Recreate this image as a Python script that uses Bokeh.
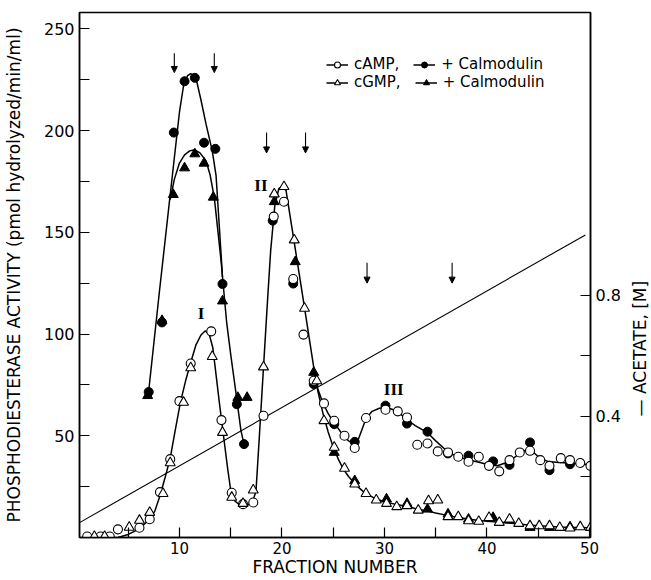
import math
from bokeh.plotting import figure
from bokeh.layouts import row
from bokeh.models import (Range1d, LinearAxis, FixedTicker, Arrow, NormalHead, Label,
                          Legend, LegendItem, ColumnDataSource)
from bokeh.embed import file_html
from bokeh.resources import INLINE
from bokeh.core.properties import value

# ---------------- data ----------------
# cAMP, open circles
camp_frac = [1.0, 2.3, 3.2, 4.0, 6.1, 7.1, 8.1, 9.1, 10.0, 11.1, 13.1, 14.1, 15.1, 16.2, 17.2,
             18.2, 19.2, 20.2, 21.1, 22.1, 23.1, 24.1, 25.1, 26.1, 27.1, 28.2, 30.1, 31.3,
             32.2, 33.2, 34.2, 35.2, 36.2, 37.2, 38.2, 39.2, 40.2, 41.2, 42.2, 43.2, 44.2,
             45.2, 46.1, 47.2, 48.1, 49.1, 50.1]
camp_act = [0.5, 0.5, 0.5, 4.0, 4.8, 9.0, 22.3, 38.5, 67.0, 85.5, 101.3, 57.7, 22.0, 16.4, 17.2,
            59.8, 157.7, 165.0, 127.0, 99.7, 77.0, 65.9, 57.4, 50.0, 44.0, 58.7, 62.8, 62.0,
            59.0, 45.6, 46.2, 42.3, 41.8, 39.7, 37.2, 39.7, 35.2, 32.5, 38.0, 41.8, 42.6,
            38.0, 35.2, 39.0, 38.0, 36.6, 35.2]

# cGMP, open triangles
cgmp_frac = [1.7, 2.7, 5.1, 6.1, 7.1, 8.4, 9.1, 10.4, 11.1, 13.2, 14.2, 15.1, 16.2, 17.2, 18.2,
             19.25, 20.2, 21.2, 22.2, 23.4, 24.1, 25.1, 26.1, 27.1, 28.2, 29.2, 30.2, 31.2,
             32.2, 33.3, 34.3, 35.2, 36.2, 37.2, 38.2, 39.2, 40.2, 41.2, 42.2, 43.1, 44.2,
             45.1, 46.1, 47.1, 48.1, 49.1, 50.1]
cgmp_act = [0.5, 0.5, 5.0, 8.4, 12.3, 21.6, 36.7, 66.4, 83.4, 88.9, 51.6, 19.7, 16.7, 23.3, 83.8,
            168.8, 172.4, 146.2, 112.6, 77.0, 57.4, 44.3, 34.0, 26.2, 21.6, 18.4, 16.7, 15.1,
            15.6, 13.4, 18.0, 18.4, 10.2, 10.2, 8.2, 7.9, 9.8, 7.4, 9.0, 6.9, 5.7,
            5.7, 5.7, 4.9, 4.6, 5.2, 4.9]

# cAMP + calmodulin, filled circles
campcal_frac = [7.0, 8.3, 9.45, 10.5, 11.5, 12.4, 13.5, 14.2, 15.6, 16.3, 19.1, 21.1, 23.1,
                25.1, 27.1, 30.1, 32.2, 34.2, 36.2, 38.2, 40.6, 42.2, 44.2, 46.1, 48.1]
campcal_act = [71.5, 105.7, 199.0, 224.2, 225.9, 194.0, 191.0, 124.6, 65.5, 45.9, 155.7, 124.8,
               75.4, 55.7, 47.0, 64.8, 56.0, 52.0, 41.3, 40.2, 37.4, 35.7, 46.7, 33.1, 36.0]

# cGMP + calmodulin, filled triangles
cgmpcal_frac = [6.9, 8.3, 9.4, 10.5, 11.5, 12.4, 13.3, 14.2, 15.7, 16.6, 19.25, 21.3, 23.1,
                25.1, 27.1, 30.2, 32.2, 34.2, 36.2, 38.2, 40.6, 42.2, 44.2, 46.1, 48.1]
cgmpcal_act = [69.7, 106.6, 168.5, 181.6, 188.5, 183.9, 167.2, 116.2, 68.8, 68.8, 165.0, 135.5,
               81.1, 41.8, 27.9, 18.9, 16.7, 13.9, 11.5, 9.0, 9.8, 8.5, 4.9, 4.9, 5.2]

# hand-drawn curves
curve_camp_frac = [4.0, 5.0, 6.0, 7.0, 7.6, 8.1, 8.6, 9.1, 9.6, 10.1, 10.6, 11.1, 11.6, 12.1,
                   12.5, 12.9, 13.25, 13.5, 13.9, 14.3, 14.7, 15.05, 15.4, 15.7, 16.2, 16.7,
                   17.2, 17.47, 17.8, 18.2, 18.6, 18.9, 19.3, 19.7, 20.1, 20.4, 21.2, 22.2,
                   23.15, 23.5, 24.0, 24.5, 25.0, 25.5, 26.0, 26.5, 27.0, 27.4, 27.8, 28.2,
                   28.8, 29.5, 30.2, 31.0, 31.6, 32.2, 33.0, 34.2, 35.0, 36.2, 37.0, 38.0,
                   39.0, 40.0, 41.0, 42.0, 43.0, 43.8, 44.5, 45.2, 46.0, 47.0, 48.0, 49.0, 50.0]
curve_camp_act = [0.0, 1.5, 4.0, 8.5, 13.0, 20.5, 29.5, 39.0, 53.0, 66.5, 77.0, 86.0, 94.5,
                  99.5, 101.5, 100.0, 93.4, 83.0, 66.0, 50.0, 34.0, 21.5, 18.0, 16.7, 16.0,
                  16.0, 18.5, 23.0, 50.0, 83.6, 117.0, 141.0, 163.0, 171.5, 172.5, 170.5,
                  145.0, 113.0, 82.0, 73.0, 66.0, 61.0, 57.0, 53.5, 50.0, 47.5, 46.0, 47.5,
                  53.0, 58.5, 62.0, 63.5, 64.0, 62.5, 60.5, 58.0, 55.0, 51.5, 47.5, 42.0,
                  40.0, 38.3, 37.2, 36.0, 35.3, 37.0, 40.5, 43.0, 42.0, 38.8, 37.3, 36.8,
                  36.6, 36.2, 35.8]

curve_cgmp_frac = [23.15, 23.5, 24.0, 24.5, 25.0, 25.5, 26.0, 26.5, 27.0, 27.5, 28.0, 29.0,
                   30.0, 31.0, 32.0, 33.0, 34.0, 35.0, 36.0, 37.0, 38.0, 39.0, 40.0, 41.0,
                   42.0, 43.0, 44.0, 45.0, 46.0, 47.0, 48.0, 49.0, 50.0]
curve_cgmp_act = [82.0, 72.0, 61.0, 52.0, 44.5, 38.5, 33.5, 30.0, 27.0, 24.5, 22.3, 19.3,
                  17.6, 16.4, 15.5, 14.3, 13.2, 12.0, 11.0, 10.0, 9.2, 8.5, 8.0, 7.6,
                  7.2, 6.7, 6.2, 5.8, 5.5, 5.2, 5.0, 4.9, 4.8]

curve_campcal_frac = [7.0, 8.05, 9.0, 10.0, 10.4, 10.8, 11.1, 11.6, 12.1, 12.6, 13.2, 13.57,
                      13.9, 14.2, 14.6, 15.0, 15.5, 16.0, 16.3]
curve_campcal_act = [72.0, 121.0, 164.0, 209.0, 222.0, 227.0, 228.0, 226.0, 215.0, 203.0,
                     190.0, 178.0, 152.0, 128.0, 106.0, 90.0, 71.5, 52.5, 45.9]

curve_cgmpcal_frac = [9.1, 9.5, 10.0, 10.5, 11.0, 11.5, 12.0, 12.6, 13.0, 13.4, 13.7, 14.06, 14.2]
curve_cgmpcal_act = [166.0, 176.0, 184.0, 188.0, 190.0, 190.5, 189.0, 185.0, 178.0, 167.0,
                     153.0, 136.0, 128.0]

# acetate gradient (right axis, M)
acetate_frac = [0.3, 49.6]
acetate_molar = [0.05, 1.0]

# pooled fractions (arrows)
arrow_frac = [9.5, 13.4, 18.5, 22.3, 28.3, 36.6]
arrow_top = [238.0, 238.0, 199.0, 199.0, 135.0, 135.0]
arrow_tip = [228.5, 228.5, 189.0, 189.0, 125.0, 125.0]

# peak labels
peak_names = ["I", "II", "III"]
peak_frac = [12.1, 17.95, 30.9]
peak_act = [110.0, 173.0, 72.5]

x_ticks = [10, 20, 30, 40, 50]
x_minor = [5, 15, 25, 35, 45]
y_ticks = [50, 100, 150, 200, 250]
y_minor = [25, 75, 125, 175, 225]
r_ticks = [0.4, 0.8]
r_minor = [0.2, 0.6]

# ---------------- main figure ----------------
FONT = "DejaVu Sans"
TOP, BOTTOM = 12, 43
yr = Range1d(0, 258)
p = figure(width=624, height=580, output_backend="svg", toolbar_location=None,
           x_range=Range1d(0.25, 50.1), y_range=yr,
           min_border_left=78, min_border_right=34, min_border_top=TOP, min_border_bottom=BOTTOM)
p.xgrid.visible = False
p.ygrid.visible = False
p.outline_line_color = "black"
p.outline_line_width = 1.5
p.background_fill_color = "white"
p.border_fill_color = "white"

p.extra_y_ranges = {"acetate": Range1d(0, 1.735)}

def style_axis(ax):
    ax.axis_line_color = "black"
    ax.axis_line_width = 1.5
    ax.major_tick_in = 10
    ax.major_tick_out = 0
    ax.minor_tick_in = 10
    ax.minor_tick_out = 0
    ax.major_tick_line_width = 1.2
    ax.minor_tick_line_width = 1.2
    ax.major_tick_line_color = "black"
    ax.minor_tick_line_color = "black"
    ax.major_label_text_font = FONT
    ax.major_label_text_font_size = "16px"
    ax.major_label_text_color = "black"
    ax.axis_label_text_font = FONT
    ax.axis_label_text_font_style = "normal"
    ax.axis_label_text_color = "black"
    ax.axis_label_text_font_size = "17px"

p.xaxis.ticker = FixedTicker(ticks=x_ticks, minor_ticks=x_minor)
p.yaxis.ticker = FixedTicker(ticks=y_ticks, minor_ticks=y_minor)
style_axis(p.xaxis[0])
style_axis(p.yaxis[0])
p.xaxis.major_label_text_font_size = "15px"
p.xaxis.major_label_standoff = 4
p.xaxis.axis_label = "FRACTION NUMBER"
p.xaxis.axis_label_standoff = 0
p.yaxis.major_label_standoff = 5
p.yaxis.axis_label = "PHOSPHODIESTERASE ACTIVITY (pmol hydrolyzed/min/ml)"
p.yaxis.axis_label_standoff = 17

rax = LinearAxis(y_range_name="acetate",
                 ticker=FixedTicker(ticks=r_ticks, minor_ticks=r_minor))
style_axis(rax)
rax.major_label_standoff = 5
p.add_layout(rax, "right")

# curves
lw = 1.5
l_camp = p.line(curve_camp_frac, curve_camp_act, line_color="black", line_width=lw)
l_cgmp = p.line(curve_cgmp_frac, curve_cgmp_act, line_color="black", line_width=lw)
l_campcal = p.line(curve_campcal_frac, curve_campcal_act, line_color="black", line_width=lw)
l_cgmpcal = p.line(curve_cgmpcal_frac, curve_cgmpcal_act, line_color="black", line_width=lw)
p.line(acetate_frac, acetate_molar, y_range_name="acetate", line_color="black", line_width=1.1)

# markers
s_campcal = p.scatter(campcal_frac, campcal_act, marker="circle", size=9,
                      fill_color="black", line_color="black", line_width=1)
s_cgmpcal = p.scatter(cgmpcal_frac, cgmpcal_act, marker="triangle", size=10,
                      fill_color="black", line_color="black", line_width=1)
s_camp = p.scatter(camp_frac, camp_act, marker="circle", size=9,
                   fill_color="white", line_color="black", line_width=1.1)
s_cgmp = p.scatter(cgmp_frac, cgmp_act, marker="triangle", size=10,
                   fill_color="white", line_color="black", line_width=1.1)

# arrows
arrow_src = ColumnDataSource(dict(x=arrow_frac, y0=arrow_top, y1=arrow_tip))
p.add_layout(Arrow(x_start="x", y_start="y0", x_end="x", y_end="y1", source=arrow_src,
                   line_color="black", line_width=1.1,
                   end=NormalHead(size=6, fill_color="black", line_color="black", line_width=1)))

# peak labels
p.text(peak_frac, peak_act, text=peak_names, text_font=value("Liberation Serif"),
       text_font_size="17px", text_font_style="bold", text_align="center",
       text_baseline="middle", text_color="black")

# legends
def make_legend(items, vy):
    return Legend(items=items, orientation="horizontal", location=(247, vy),
                  background_fill_alpha=0, border_line_alpha=0, padding=0, margin=0,
                  spacing=14, label_standoff=6, glyph_width=22, glyph_height=15,
                  label_height=15, label_text_font=FONT, label_text_font_size="15px",
                  label_text_color="black")

lg1 = make_legend([LegendItem(label="cAMP,", renderers=[l_camp, s_camp]),
                   LegendItem(label="+ Calmodulin", renderers=[l_campcal, s_campcal])], 464)
lg2 = make_legend([LegendItem(label="cGMP,", renderers=[l_cgmp, s_cgmp]),
                   LegendItem(label="+ Calmodulin", renderers=[l_cgmpcal, s_cgmpcal])], 446)
p.add_layout(lg1, "center")
p.add_layout(lg2, "center")

# ---------------- narrow strip holding the right-hand axis title ----------------
p2 = figure(width=27, height=580, output_backend="svg", toolbar_location=None,
            x_range=Range1d(0, 1), y_range=yr, x_axis_type=None, y_axis_type=None,
            min_border_left=0, min_border_right=0, min_border_top=TOP, min_border_bottom=BOTTOM)
p2.xgrid.visible = False
p2.ygrid.visible = False
p2.outline_line_color = None
p2.background_fill_color = "white"
p2.border_fill_color = "white"
p2.add_layout(Label(x=15, y=92.8, x_units="screen", text="— ACETATE, [M]",
                    text_font=FONT, text_font_size="17px", text_color="black",
                    text_align="center", text_baseline="middle", angle=math.pi / 2))

layout = row(p, p2, spacing=0)
open("out.html", "w").write(file_html(layout, INLINE))
